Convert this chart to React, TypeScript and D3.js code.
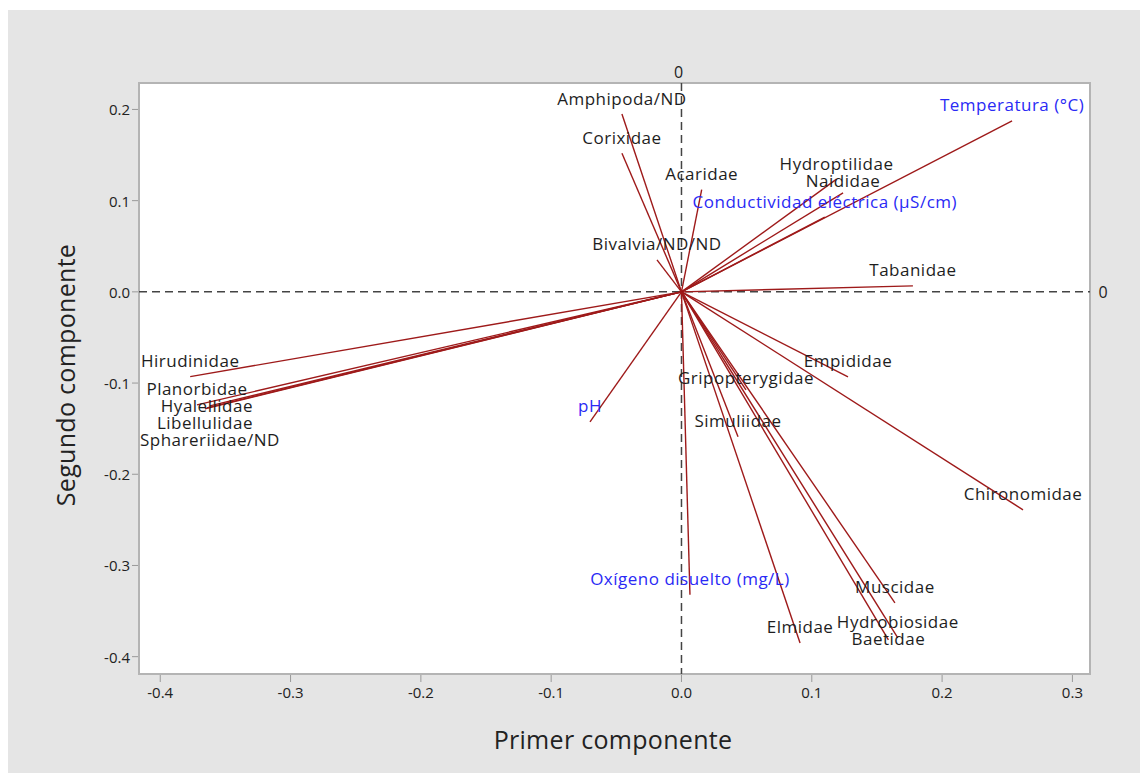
import React, { useMemo } from "react";
import * as d3 from "d3";

// biplot loadings
const species = [
  "Amphipoda/ND", "Corixidae", "Acaridae", "Hydroptilidae", "Naididae",
  "Bivalvia/ND/ND", "Tabanidae", "Hirudinidae", "Planorbidae", "Hyalellidae",
  "Libellulidae", "Sphareriidae/ND", "Empididae", "Gripopterygidae", "Simuliidae",
  "Chironomidae", "Elmidae", "Muscidae", "Hydrobiosidae", "Baetidae",
];
const speciesPC1 = [
  -0.0457, -0.0457, 0.0155, 0.119, 0.124,
  -0.0188, 0.1776, -0.377, -0.3718, -0.3642,
  -0.3657, -0.3619, 0.1278, 0.0495, 0.0434,
  0.2621, 0.091, 0.1638, 0.166, 0.1588,
];
const speciesPC2 = [
  0.195, 0.152, 0.112, 0.1236, 0.1086,
  0.035, 0.0066, -0.093, -0.1239, -0.1272,
  -0.1283, -0.125, -0.0932, -0.1075, -0.159,
  -0.239, -0.385, -0.341, -0.3794, -0.3816,
];

const variables = ["Temperatura (°C)", "Conductividad eléctrica (µS/cm)", "pH", "Oxígeno disuelto (mg/L)"];
const variablesPC1 = [0.2537, 0.11, -0.0702, 0.0065];
const variablesPC2 = [0.1875, 0.082, -0.1425, -0.332];

const xTicks = [-0.4, -0.3, -0.2, -0.1, 0, 0.1, 0.2, 0.3];
const yTicks = [0.2, 0.1, 0, -0.1, -0.2, -0.3, -0.4];

const W = 1140;
const H = 765;
const frame = { left: 131, right: 1082, top: 75, bottom: 666 };
const FONT = "'Open Sans', 'Noto Sans', sans-serif";
const LABEL_SIZE = 17;
const LABEL_SPACING = 0.5;

type Label = { text: string; x: number; y: number; ex: number; ey: number; w: number; blue: boolean };

export default function App() {
  const x = d3.scaleLinear().domain([-0.4163, 0.3135]).range([frame.left, frame.right]);
  const y = d3.scaleLinear().domain([-0.419, 0.229]).range([frame.bottom, frame.top]);

  const labels = useMemo(() => {
    const ctx = document.createElement("canvas").getContext("2d")!;
    ctx.font = `${LABEL_SIZE}px ${FONT}`;
    const items: Label[] = [
      ...variables.map((t, i) => ({ text: t, ex: x(variablesPC1[i]), ey: y(variablesPC2[i]), blue: true })),
      ...species.map((t, i) => ({ text: t, ex: x(speciesPC1[i]), ey: y(speciesPC2[i]), blue: false })),
    ].map((d) => ({
      ...d,
      x: d.ex,
      y: d.ey - 16,
      w: ctx.measureText(d.text).width + d.text.length * LABEL_SPACING,
    }));

    // crude label placement: push a label down until it stops overlapping
    const placed: Label[] = [];
    const lh = 17;
    items.forEach((l) => {
      let moved = true;
      while (moved) {
        moved = false;
        for (const p of placed) {
          const ox = Math.abs(p.x - l.x) < (p.w + l.w) / 2;
          const oy = Math.abs(p.y - l.y) < lh - 1;
          if (ox && oy) {
            l.y = p.y + lh;
            moved = true;
          }
        }
      }
      placed.push(l);
    });
    return placed;
  }, []);

  const fmt = (v: number) => v.toFixed(1);

  return (
    <svg width={W} height={H} style={{ display: "block", fontFamily: FONT }}>
      <rect x={0} y={2} width={W} height={H} fill="#e5e5e5" />
      <rect
        x={frame.left}
        y={frame.top}
        width={frame.right - frame.left}
        height={frame.bottom - frame.top}
        fill="#fff"
        stroke="#b4b4b4"
        strokeWidth={2}
      />

      {/* reference lines */}
      <line x1={x(0)} x2={x(0)} y1={frame.top} y2={frame.bottom} stroke="#444" strokeWidth={1.5} strokeDasharray="8,5" />
      <line x1={frame.left} x2={frame.right} y1={y(0)} y2={y(0)} stroke="#444" strokeWidth={1.5} strokeDasharray="8,5" />
      <text x={x(0) - 3} y={64} textAnchor="middle" dominantBaseline="central" fontSize={16} fill="#222">0</text>
      <text x={frame.right + 13} y={y(0)} textAnchor="middle" dominantBaseline="central" fontSize={16} fill="#222">0</text>

      {/* vectors */}
      {labels.map((l) => (
        <line key={"v" + l.text} x1={x(0)} y1={y(0)} x2={l.ex} y2={l.ey} stroke="#9e1a1a" strokeWidth={1.4} />
      ))}
      {labels.map((l) => (
        <text
          key={"t" + l.text}
          x={l.x}
          y={l.y}
          textAnchor="middle"
          dominantBaseline="central"
          fontSize={LABEL_SIZE}
          letterSpacing={LABEL_SPACING}
          fill={l.blue ? "#2a2af5" : "#1e1e1e"}
        >
          {l.text}
        </text>
      ))}

      {/* x axis */}
      {xTicks.map((t) => (
        <g key={"x" + t}>
          <line x1={x(t)} x2={x(t)} y1={frame.bottom + 1} y2={frame.bottom + 8} stroke="#999" />
          <text x={x(t)} y={684} textAnchor="middle" dominantBaseline="central" fontSize={15} fill="#222">
            {fmt(t)}
          </text>
        </g>
      ))}
      {/* y axis */}
      {yTicks.map((t) => (
        <g key={"y" + t}>
          <line x1={frame.left - 1} x2={frame.left - 7} y1={y(t)} y2={y(t)} stroke="#999" />
          <text x={frame.left - 9} y={y(t)} textAnchor="end" dominantBaseline="central" fontSize={15} fill="#222">
            {fmt(t)}
          </text>
        </g>
      ))}

      <text x={605} y={731} textAnchor="middle" dominantBaseline="central" fontSize={25} letterSpacing={0.3} fill="#222">
        Primer componente
      </text>
      <text
        transform={`translate(57,367) rotate(-90)`}
        textAnchor="middle"
        dominantBaseline="central"
        fontSize={25}
        letterSpacing={0.3}
        fill="#222"
      >
        Segundo componente
      </text>
    </svg>
  );
}
